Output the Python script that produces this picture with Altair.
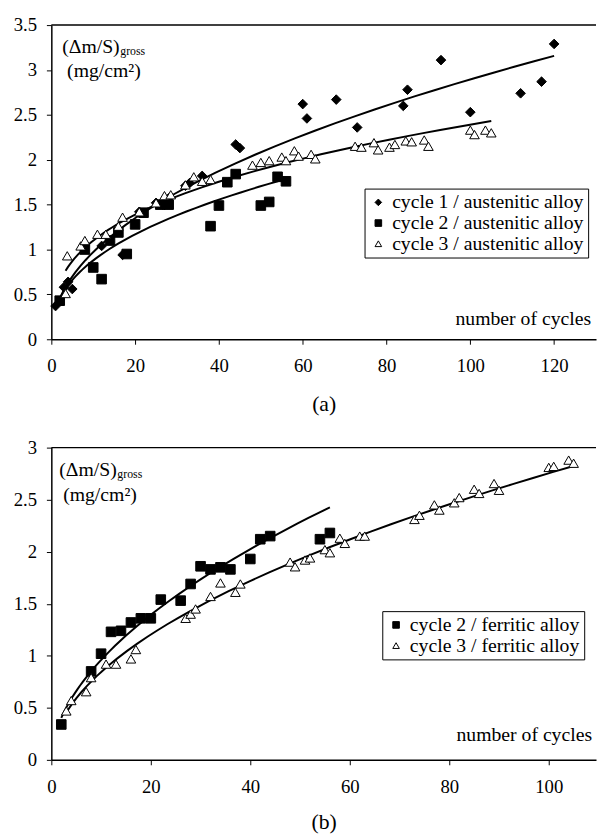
import altair as alt
import pandas as pd

FONT = "Liberation Serif"

# ---------- panel (a): austenitic alloy ----------
a_names = ["cycle 1 / austenitic alloy", "cycle 2 / austenitic alloy", "cycle 3 / austenitic alloy"]
a1_x = [1, 3, 4, 5, 12, 17, 21, 25, 26.5, 28, 32, 33, 36, 44, 45, 60, 61, 68, 73, 84, 85, 93, 100, 112, 117, 120]
a1_y = [0.37, 0.58, 0.64, 0.56, 1.04, 0.94, 1.42, 1.52, 1.5, 1.57, 1.71, 1.74, 1.82, 2.17, 2.13, 2.62, 2.46, 2.67, 2.36, 2.60, 2.78, 3.11, 2.53, 2.74, 2.87, 3.29]
a2_x = [2, 8, 10, 12, 14, 16, 18, 20, 22, 26, 28, 38, 40, 42, 44, 50, 52, 54, 56]
a2_y = [0.43, 1.0, 0.80, 0.67, 1.10, 1.19, 0.95, 1.28, 1.41, 1.50, 1.50, 1.26, 1.49, 1.75, 1.84, 1.49, 1.53, 1.81, 1.76]
a3_x = [3.4, 3.8, 7, 8, 11, 13, 16, 17, 21, 25, 27, 28.5, 32, 34, 36, 38, 48, 50, 52, 55, 56, 58, 59, 62, 63,
        72.5, 74, 77, 78, 80.7, 82, 84.6, 86, 89, 90, 100, 101, 103.6, 105]
a3_y = [0.51, 0.93, 1.04, 1.1, 1.17, 1.17, 1.26, 1.36, 1.42, 1.52, 1.6, 1.61, 1.72, 1.81, 1.76, 1.78, 1.94, 1.97, 1.99, 2.03, 1.99, 2.10, 2.04, 2.06, 2.01,
        2.15, 2.14, 2.19, 2.11, 2.14, 2.17, 2.21, 2.20, 2.22, 2.15, 2.33, 2.28, 2.33, 2.30]

# ---------- panel (b): ferritic alloy ----------
b_names = ["cycle 2 / ferritic alloy", "cycle 3 / ferritic alloy"]
b2_x = [2, 8, 10, 12, 14, 16, 18, 20, 22, 26, 28, 30, 32, 34, 36, 40, 42, 44, 54, 56]
b2_y = [0.34, 0.85, 1.02, 1.23, 1.24, 1.32, 1.36, 1.36, 1.54, 1.53, 1.69, 1.86, 1.83, 1.85, 1.83, 1.93, 2.12, 2.15, 2.12, 2.18]
b3_x = [3, 4, 7, 8, 11, 13, 16, 17, 27, 28, 29, 32, 34, 37, 38, 48, 49, 51, 52, 55, 56, 58, 59, 62, 63,
        73, 74, 77, 78, 81, 82, 85, 86, 89, 90, 100, 101, 104, 105]
b3_y = [0.47, 0.57, 0.655, 0.79, 0.92, 0.92, 0.97, 1.06, 1.36, 1.40, 1.45, 1.57, 1.70, 1.61, 1.69, 1.90, 1.855, 1.92, 1.94, 2.02, 1.99, 2.13, 2.08, 2.15, 2.15,
        2.31, 2.35, 2.45, 2.40, 2.47, 2.52, 2.60, 2.56, 2.655, 2.59, 2.81, 2.82, 2.88, 2.85]

a_xticks = [0, 20, 40, 60, 80, 100, 120]
a_yticks = [0, 0.5, 1, 1.5, 2, 2.5, 3, 3.5]
b_xticks = [0, 20, 40, 60, 80, 100]
b_yticks = [0, 0.5, 1, 1.5, 2, 2.5, 3]

W = 553


def frame(xs, ys, names):
    rows = []
    for xl, yl, n in zip(xs, ys, names):
        for x, y in zip(xl, yl):
            rows.append({"x": x, "y": y, "series": n})
    return pd.DataFrame(rows)


def panel(df, names, shapes, fills, xdom, ydom, xticks, yticks, H, legx, legy, title, tpad, ann):
    leg = alt.Legend(title=None, orient="none", legendX=legx, legendY=legy,
                     strokeColor="black", fillColor="white", padding=4,
                     labelFont=FONT, labelFontSize=20, labelColor="black", labelLimit=0,
                     symbolSize=45, symbolStrokeColor="black", symbolStrokeWidth=1,
                     rowPadding=1, labelOffset=4)
    xs = alt.Scale(domain=xdom, nice=False, zero=True)
    ys = alt.Scale(domain=ydom, nice=False)
    xax = alt.Axis(values=xticks, title=title, titleFont=FONT, titleFontSize=22,
                   titleFontWeight="normal", titleColor="black", titlePadding=tpad,
                   labelPadding=13, labelFlush=False, labelFont=FONT, labelFontSize=19)
    yax = alt.Axis(values=yticks, title=None, format="~g", labelPadding=10,
                   labelFont=FONT, labelFontSize=19)
    base = alt.Chart(df)
    lines = base.transform_regression(
        "x", "y", method="pow", groupby=["series"]
    ).mark_line(color="black", strokeWidth=2).encode(
        x=alt.X("x:Q", scale=xs, axis=xax),
        y=alt.Y("y:Q", scale=ys, axis=yax),
        detail="series:N",
    )
    pts = base.mark_point(filled=True, strokeWidth=1, opacity=1, size=95).encode(
        x=alt.X("x:Q", scale=xs, axis=xax),
        y=alt.Y("y:Q", scale=ys, axis=yax),
        shape=alt.Shape("series:N", scale=alt.Scale(domain=names, range=shapes), legend=leg),
        fill=alt.Fill("series:N", scale=alt.Scale(domain=names, range=fills), legend=leg),
        stroke=alt.Stroke("series:N", scale=alt.Scale(domain=names, range=["black"] * len(names)), legend=leg),
    )
    one = alt.Chart(pd.DataFrame({"k": [0]}))
    top = one.mark_rule(color="black", strokeWidth=1.5).encode(
        x=alt.value(0), x2=alt.value(W), y=alt.value(0))
    t1 = one.mark_text(text="(\u0394m/S)", font=FONT, fontSize=20, align="left",
                       baseline="middle", color="black").encode(
        x=alt.value(ann[0]), y=alt.value(ann[1]))
    t1s = one.mark_text(text="gross", font=FONT, fontSize=12, align="left",
                        baseline="middle", color="black").encode(
        x=alt.value(ann[0] + 59), y=alt.value(ann[1] + 4))
    t2 = one.mark_text(text="(mg/cm\u00b2)", font=FONT, fontSize=20, align="left",
                       baseline="middle", color="black").encode(
        x=alt.value(ann[2]), y=alt.value(ann[3]))
    t3 = one.mark_text(text="number of cycles", font=FONT, fontSize=20, align="right",
                       baseline="middle", color="black").encode(
        x=alt.value(ann[4]), y=alt.value(ann[5]))
    return alt.layer(lines, pts, top, t1, t1s, t2, t3).properties(width=W, height=H)


df_a = frame([a1_x, a2_x, a3_x], [a1_y, a2_y, a3_y], a_names)
df_b = frame([b2_x, b3_x], [b2_y, b3_y], b_names)

pa = panel(df_a, a_names, ["diamond", "square", "triangle-up"], ["black", "black", "white"],
           [0, 130], [0, 3.5], a_xticks, a_yticks, 319, 318, 166, "(a)", 18,
           [11, 22, 16, 47, 548, 298])
pb = panel(df_b, b_names, ["square", "triangle-up"], ["black", "white"],
           [0, 109.5], [0, 3], b_xticks, b_yticks, 317, 336, 166, "(b)", 16,
           [8, 23, 12, 48, 549, 292])

chart = alt.vconcat(pa, pb, spacing=25).resolve_scale(
    x="independent", y="independent", shape="independent", fill="independent",
    stroke="independent"
).resolve_legend(shape="independent", fill="independent", stroke="independent").properties(
    padding={"left": 5, "top": 2, "right": 0, "bottom": 0}
).configure_view(stroke=None).configure_axis(
    grid=False, domainColor="black", domainWidth=1.5, tickColor="black", tickSize=5,
    labelFont=FONT, labelFontSize=19, labelColor="black"
)

chart.save("out.html", embed_options={"renderer": "svg", "actions": False})
